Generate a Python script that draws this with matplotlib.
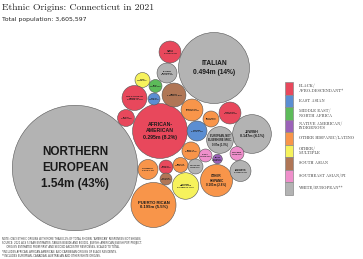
import matplotlib
matplotlib.use("Agg")
import matplotlib.pyplot as plt
from matplotlib.patches import Circle, Rectangle

TOTAL = 3605597

# ---- data ----
names = ["NORTHERN\nEUROPEAN", "ITALIAN", "AFRICAN-\nAMERICAN", "PUERTO RICAN", "JEWISH",
         "OTHER\nHISPANIC", "OTHER\nMULTIPLE", "EUROPEAN, NOT\nELSEWHERE SPEC.", "WEST\nINDIAN", "EASTERN\nEUROPEAN",
         "OTHER", "ARAB", "INDIAN", "KOREAN", "SUB-SAHARAN\nAFRICAN",
         "HAITIAN", "DOMINICAN", "ECUADORIAN", "JAMAICAN", "CHINESE",
         "MEXICAN", "FILIPINO", "NATIVE\nAMERICAN", "VIETNAMESE", "SOUTHERN\nEUROPEAN",
         "COLOMBIAN", "NIGERIAN", "PAKISTANI", "PERUVIAN", "PORTUGUESE"]
values = [1540000, 494000, 295000, 199000, 147000,
          101000, 69000, 70000, 47000, 39000,
          22000, 16500, 56000, 14000, 61000,
          28000, 47000, 25000, 47000, 39000,
          32000, 16500, 9000, 19000, 43000,
          39000, 19000, 14000, 22000, 22000]
groups = ["W", "W", "B", "H", "W",
          "H", "O", "W", "B", "W",
          "O", "M", "S", "E", "B",
          "B", "H", "H", "B", "E",
          "H", "P", "N", "P", "W",
          "H", "B", "S", "H", "W"]

legend_keys = ["B", "E", "M", "N", "H", "O", "S", "P", "W"]
legend_labels = ["BLACK/\nAFRO-DESCENDANT*", "EAST ASIAN", "MIDDLE EAST/\nNORTH AFRICA",
                 "NATIVE AMERICAN/\nINDIGENOUS", "OTHER HISPANIC/LATINO", "OTHER/\nMULTIPLE",
                 "SOUTH ASIAN", "SOUTHEAST ASIAN/PI", "WHITE/EUROPEAN**"]

# ---- layout (packed centres, pixel coords) and styles ----
centres = [(75, 168), (214, 68), (160, 131), (153.5, 205), (252, 134),
           (216.5, 180.5), (185.5, 186), (220, 140), (170, 52), (167, 73),
           (142.5, 80), (155.5, 86), (174, 95), (154, 99), (134.5, 98),
           (126, 118), (192, 110), (211, 119), (230, 113), (197, 131),
           (191, 151), (205.5, 155.5), (217.5, 159), (237, 153.5), (240.5, 171),
           (148, 169.5), (166, 167), (166, 179), (180.5, 165), (195.5, 166.5)]
palette = {"B": "#E8485C", "E": "#5B8ED2", "M": "#5DBB5A", "N": "#9B62B8", "H": "#F8954A",
           "O": "#F6F25C", "S": "#B07656", "P": "#EF8FCB", "W": "#B3B3B3"}
K = 0.0505  # px per sqrt(person)

fig = plt.figure(figsize=(3.63, 2.59), dpi=100)
ax = fig.add_axes([0, 0, 1, 1])
ax.set_xlim(0, 363)
ax.set_ylim(259, 0)
ax.axis("off")

for name, v, g, (cx, cy) in zip(names, values, groups, centres):
    r = K * v ** 0.5
    ax.add_patch(Circle((cx, cy), r, facecolor=palette[g], edgecolor="#555555", linewidth=0.4))
    pct = v / TOTAL * 100
    ptxt = f"{pct:.0f}%" if pct >= 10 else f"{pct:.1f}%"
    label = f"{name}\n{v/1e6:.3g}m ({ptxt})"
    fs = max(1.1, r * 0.135)
    ls = 1.4 if r > 40 else 1.25
    ax.text(cx, cy, label, ha="center", va="center", fontsize=fs, fontweight="bold",
            family="Liberation Sans", color="#1a1a1a", linespacing=ls)

# legend
for i, (k, lab) in enumerate(zip(legend_keys, legend_labels)):
    y0 = 82 + i * 12.5
    ax.add_patch(Rectangle((284.5, y0), 8.5, 12.5, facecolor=palette[k], edgecolor="#8a8a8a", linewidth=0.5))
    ax.text(299, y0 + 6.25, lab, ha="left", va="center", fontsize=3.0, family="cmr10",
            color="#333333", linespacing=1.1)

ax.text(2, 8, "Ethnic Origins: Connecticut in 2021", ha="left", va="center",
        fontsize=7.0, family="cmr10", color="#222222")
ax.text(2, 20, "Total population: 3,605,597", ha="left", va="center",
        fontsize=4.4, family="DejaVu Sans", color="#222222")

foot = ("NOTE: ONLY ETHNIC ORIGINS WITH MORE THAN 0.2% OF TOTAL SHOWN. 'AMERICAN' RESPONSES NOT SHOWN.\n"
        "SOURCE: 2021 ACS 5-YEAR ESTIMATES, TABLES B04006 AND B03001. JEWISH: AMERICAN JEWISH POP. PROJECT.\n"
        "      ORIGINS ESTIMATED FROM FIRST AND SECOND ANCESTRY RESPONSES, SCALED TO TOTAL.\n"
        "*INCLUDES AFRICAN, AFRICAN-AMERICAN, AND CARIBBEAN ORIGINS OF BLACK RESIDENTS.\n"
        "**INCLUDES EUROPEAN, CANADIAN, AUSTRALIAN AND OTHER WHITE ORIGINS.")
ax.text(2, 247.5, foot, ha="left", va="center", fontsize=1.8, family="DejaVu Sans",
        color="#333333", linespacing=1.1)

fig.savefig("out.png", dpi=100)
